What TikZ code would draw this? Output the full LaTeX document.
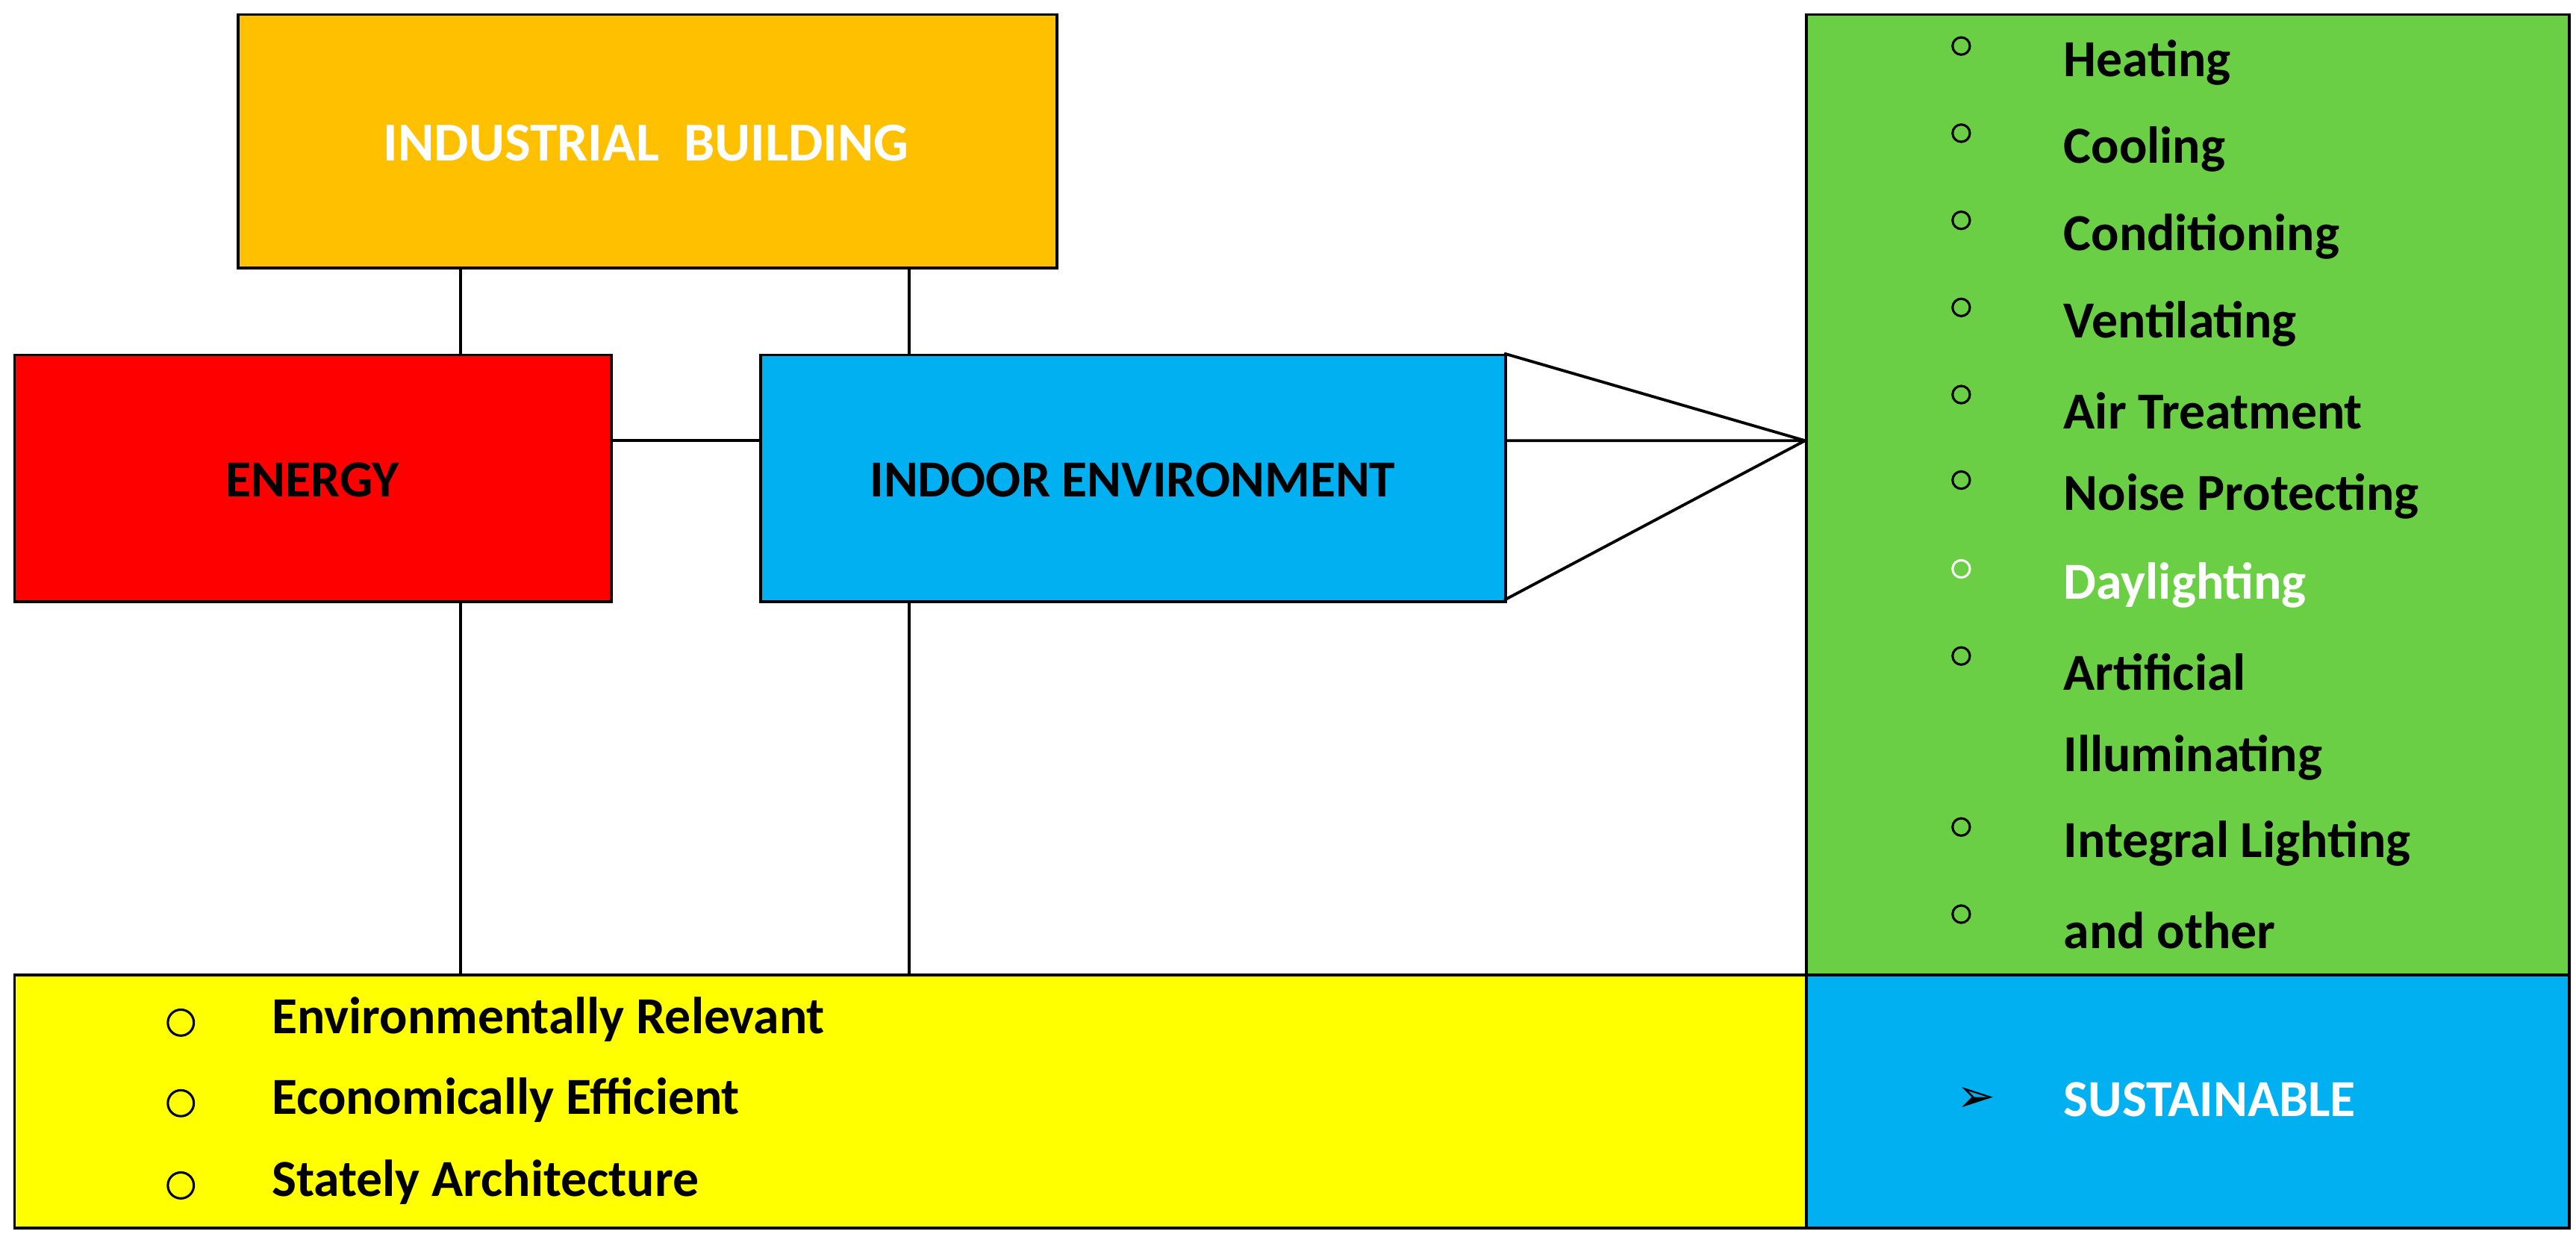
\documentclass[tikz,border=0pt]{standalone}
\usepackage{fontspec}
\setmainfont{Carlito}
\newfontfamily\dvs{DejaVu Sans}
\definecolor{orng}{HTML}{FFC000}
\definecolor{blu}{HTML}{00B0F0}
\definecolor{grn}{HTML}{6ACF45}
\definecolor{yel}{HTML}{FFFF00}
\begin{document}
\begin{tikzpicture}[x=0.02cm,y=-0.02cm,
 box/.style={draw,line width=1pt,anchor=north west,inner sep=0pt},
 lbl/.style={font=\bfseries\fontsize{18}{20}\selectfont,anchor=west,inner sep=0pt},
 bul/.style={draw,circle,line width=0.8pt,minimum size=8pt,inner sep=0pt},
 ln/.style={line width=1pt}]
\useasboundingbox (0,0) rectangle (1567,754);
\node[box,fill=orng,minimum width=9.96cm,minimum height=3.08cm] (ind) at (144,8) {};
\node[font=\bfseries\fontsize{19}{21}\selectfont,text=white] at (393,87) {INDUSTRIAL\ \ BUILDING};
\node[box,fill=red,minimum width=7.26cm,minimum height=3.0cm] (en) at (8,215) {};
\node[font=\bfseries\fontsize{18}{20}\selectfont] at (190,292) {ENERGY};
\node[box,fill=blu,minimum width=9.06cm,minimum height=3.0cm] (io) at (462,215) {};
\node[font=\bfseries\fontsize{18}{20}\selectfont] at (689,292) {INDOOR ENVIRONMENT};
\node[box,fill=grn,minimum width=9.28cm,minimum height=11.68cm] (gr) at (1098,8) {};
\node[box,fill=yel,minimum width=21.8cm,minimum height=3.08cm] (ye) at (8,592) {};
\node[box,fill=blu,minimum width=9.28cm,minimum height=3.08cm] (su) at (1098,592) {};
\coordinate (c1) at (280,162); \coordinate (c2) at (280,215);
\coordinate (c3) at (280,365); \coordinate (c4) at (280,592);
\coordinate (d1) at (553,162); \coordinate (d2) at (553,215);
\coordinate (d3) at (553,365); \coordinate (d4) at (553,592);
\coordinate (h1) at (371,268); \coordinate (h2) at (462,268);
\coordinate (p) at (1098,268);
\coordinate (q1) at (915,215); \coordinate (q2) at (915,268); \coordinate (q3) at (915,365);
\draw[ln] (c1)--(c2) (c3)--(c4) (d1)--(d2) (d3)--(d4) (h1)--(h2);
\draw[ln] (q1)--(p) (q2)--(p) (q3)--(p);
\foreach \y/\t [count=\i] in {38/Heating,91/Cooling,144/Conditioning,197/Ventilating,250/Air Treatment,302/Noise Protecting,409/Artificial,513/Integral Lighting,566/and other}{
 \node[bul,minimum size=6pt] (gb\i) at (1193,\y-10) {};
 \node[lbl] (gt\i) at (1255,\y) {\t};}
\node[bul,minimum size=6pt,draw=white] (gbd) at (1193,346) {};
\node[lbl,text=white] (gtd) at (1255,356) {Daylighting};
\node[lbl] (gti) at (1255,461) {Illuminating};
\foreach \y/\t [count=\i] in {620/Environmentally Relevant,669/Economically Efficient,719/Stately Architecture}{
 \node[bul,minimum size=9pt] (yb\i) at (110,\y+2) {};
 \node[lbl] (yt\i) at (165,\y) {\t};}
\node[font=\dvs\fontsize{16}{18}\selectfont] (arr) at (1202,669) {➢};
\node[lbl,text=white] (sut) at (1255,669) {SUSTAINABLE};
\end{tikzpicture}
\end{document}
